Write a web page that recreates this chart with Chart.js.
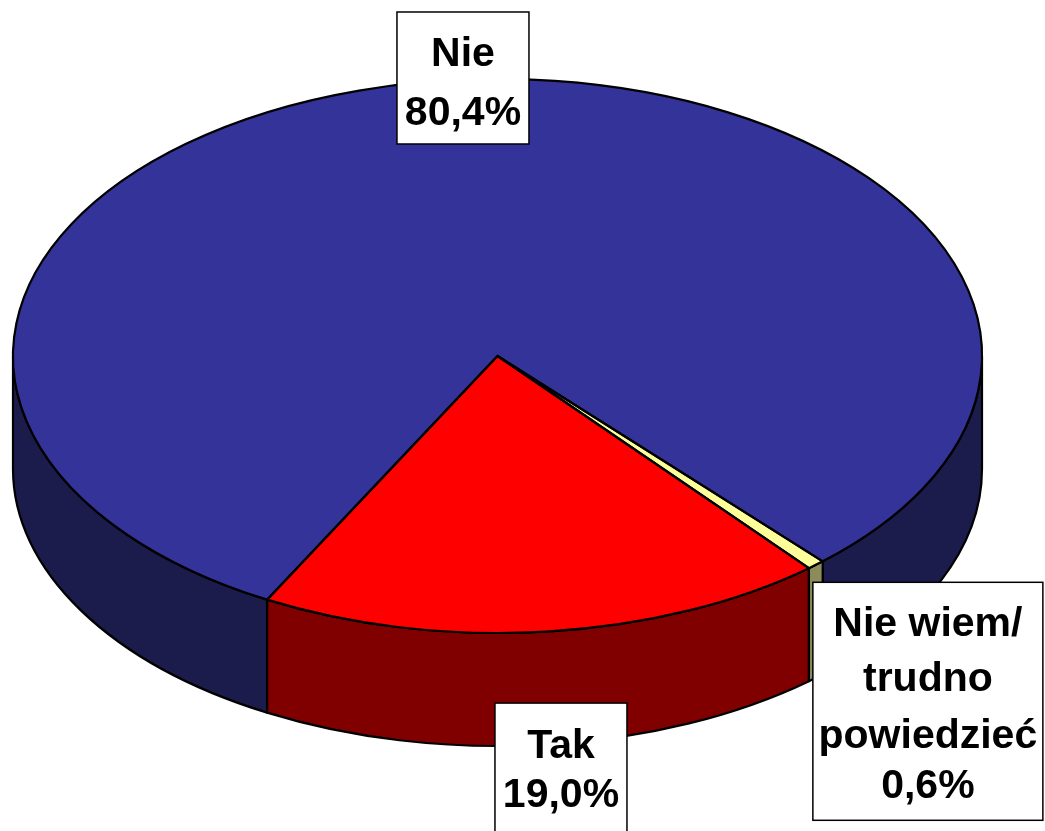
<!DOCTYPE html>
<html>
<head>
<meta charset="utf-8">
<script src="https://cdn.jsdelivr.net/npm/chart.js@4.4.1/dist/chart.umd.min.js"></script>
<style>
    html, body { margin: 0; padding: 0; background: #ffffff; overflow: hidden; }
    #wrap { width: 1045px; height: 831px; }
</style>
</head>
<body>
<div id="wrap"><canvas id="pieChart" width="1045" height="831"></canvas></div>
<script>
// dane z wykresu
const categories = ["Tak", "Nie", "Nie wiem/\ntrudno\npowiedzieć"];
const values = [19.0, 80.4, 0.6];
const topColors = ["#FF0000", "#333399", "#FFFF99"];
const sideColors = ["#800000", "#1C1C4C", "#8C8C5A"];

// geometria "3D" (elipsa + grubość)
const view = { cx: 497.5, cy: 356, rx: 484.5, ry: 277, depth: 113 };

// położenie etykiet względem środka łuku na obwodzie
const labelBoxes = [
    { dx: 14.5, dy: 137.5, w: 132, h: 132, base: [55, 104] },
    { dx: 23.5, dy: -3, w: 132, h: 132, base: [54, 113] },
    { dx: 112, dy: 136.5, w: 230, h: 238, base: [54, 109, 166, 216] }
];

function pt(a, dy) {
    return [view.cx + view.rx * Math.cos(a), view.cy + view.ry * Math.sin(a) + (dy || 0)];
}

// przednia ścianka: części łuku z sin > 0
function frontParts(a1, a2) {
    const parts = [];
    const TAU = Math.PI * 2;
    for (let k = Math.floor(a1 / TAU) - 1; k <= Math.floor(a2 / TAU) + 1; k++) {
        const s = Math.max(a1, k * TAU);
        const e = Math.min(a2, k * TAU + Math.PI);
        if (e > s) parts.push([s, e]);
    }
    return parts;
}

const pie3d = {
    id: "pie3d",
    beforeDatasetsDraw(chart) {
        const ctx = chart.ctx;
        const arcs = chart.getDatasetMeta(0).data;
        ctx.save();
        ctx.lineWidth = 2.2;
        ctx.lineJoin = "round";
        ctx.strokeStyle = "#000000";
        arcs.forEach((arc, i) => {
            frontParts(arc.startAngle, arc.endAngle).forEach(([s, e]) => {
                ctx.beginPath();
                ctx.ellipse(view.cx, view.cy, view.rx, view.ry, 0, s, e, false);
                ctx.ellipse(view.cx, view.cy + view.depth, view.rx, view.ry, 0, e, s, true);
                ctx.closePath();
                ctx.fillStyle = sideColors[i];
                ctx.fill();
                ctx.stroke();
            });
        });
        ctx.restore();

        // spłaszczenie koła do elipsy
        const a0 = arcs[0];
        const r = a0.outerRadius;
        ctx.save();
        ctx.translate(view.cx, view.cy);
        ctx.scale(view.rx / r, view.ry / r);
        ctx.translate(-a0.x, -a0.y);
    },
    afterDatasetsDraw(chart) {
        const ctx = chart.ctx;
        ctx.restore();
        const arcs = chart.getDatasetMeta(0).data;

        // krawędzie wycinków
        ctx.save();
        ctx.lineWidth = 2.2;
        ctx.lineJoin = "round";
        ctx.strokeStyle = "#000000";
        arcs.forEach(arc => {
            const p = pt(arc.startAngle);
            ctx.beginPath();
            ctx.moveTo(view.cx, view.cy);
            ctx.lineTo(p[0], p[1]);
            ctx.ellipse(view.cx, view.cy, view.rx, view.ry, 0, arc.startAngle, arc.endAngle, false);
            ctx.closePath();
            ctx.stroke();
        });
        ctx.restore();

        // etykiety
        ctx.save();
        ctx.font = "bold 41px 'Liberation Sans', Arial, sans-serif";
        ctx.textAlign = "center";
        ctx.textBaseline = "alphabetic";
        arcs.forEach((arc, i) => {
            const mid = (arc.startAngle + arc.endAngle) / 2;
            const anchor = pt(mid);
            const box = labelBoxes[i];
            const bx = anchor[0] + box.dx - box.w / 2;
            const by = anchor[1] + box.dy - box.h / 2;
            ctx.fillStyle = "#ffffff";
            ctx.fillRect(bx, by, box.w, box.h);
            ctx.lineWidth = 1.5;
            ctx.strokeStyle = "#000000";
            ctx.strokeRect(bx, by, box.w, box.h);
            const lines = categories[i].split("\n");
            lines.push(values[i].toFixed(1).replace(".", ",") + "%");
            ctx.fillStyle = "#000000";
            lines.forEach((txt, j) => {
                ctx.fillText(txt, bx + box.w / 2, by + box.base[j]);
            });
        });
        ctx.restore();
    }
};

const ctx = document.getElementById("pieChart").getContext("2d");
const pieChart = new Chart(ctx, {
    type: "pie",
    data: {
        labels: categories,
        datasets: [{
            data: values,
            backgroundColor: topColors,
            borderWidth: 0,
            clip: false
        }]
    },
    options: {
        responsive: false,
        animation: false,
        devicePixelRatio: 1,
        rotation: 140,
        layout: { padding: 0 },
        plugins: {
            legend: { display: false },
            tooltip: { enabled: false }
        }
    },
    plugins: [pie3d]
});
</script>
</body>
</html>
